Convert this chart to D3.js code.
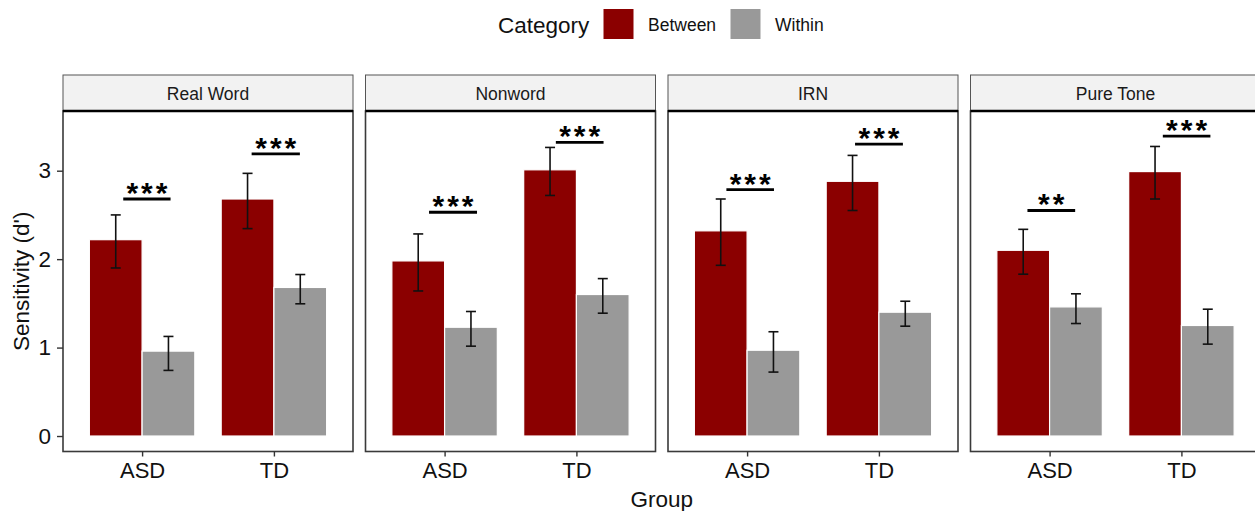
<!DOCTYPE html>
<html>
<head>
<meta charset="utf-8">
<script src="https://cdn.jsdelivr.net/npm/d3@7"></script>
<style>
  html, body { margin: 0; padding: 0; background: #fff; }
  svg { display: block; font-family: "Liberation Sans", Arial, sans-serif; }
</style>
</head>
<body>
<svg id="chart" width="1255" height="511"></svg>
<script>
// Sensitivity (d') by stimulus condition, group and comparison category
const conditions = ["Real Word", "Nonword", "IRN", "Pure Tone"];
const groups = ["ASD", "TD"];
const categories = ["Between", "Within"];
const yTicks = [0, 1, 2, 3];

// Means per condition, [ASD, TD]
const betweenMean = [[2.22, 2.68], [1.98, 3.01], [2.32, 2.88], [2.10, 2.99]];
const withinMean  = [[0.96, 1.68], [1.23, 1.60], [0.97, 1.40], [1.46, 1.25]];
// Error bar limits per condition, [ASD, TD]
const betweenLow  = [[1.90, 2.345], [1.64, 2.72], [1.93, 2.55], [1.83, 2.68]];
const betweenHigh = [[2.50, 2.97], [2.285, 3.263], [2.68, 3.173], [2.337, 3.274]];
const withinLow   = [[0.742, 1.495], [1.016, 1.389], [0.723, 1.242], [1.272, 1.039]];
const withinHigh  = [[1.126, 1.826], [1.408, 1.78], [1.179, 1.524], [1.608, 1.434]];

// Between vs. within comparisons: label, bracket height, bracket extent around the group
const sigLabel = [["***", "***"], ["***", "***"], ["***", "***"], ["**", "***"]];
const sigY     = [[2.68, 3.19], [2.53, 3.32], [2.785, 3.30], [2.55, 3.39]];
const sigFrom  = [[-0.143, -0.169], [-0.118, -0.156], [-0.157, -0.181], [-0.168, -0.141]];
const sigTo    = [[0.216, 0.197], [0.246, 0.206], [0.204, 0.182], [0.194, 0.22]];

const colors = { Between: "#8B0000", Within: "#999999" };

// Layout
const panelTop = 111, panelBottom = 451.5;
const stripTop = 75;
const firstPanelLeft = 63, panelW = 290, panelGap = 12.5;

const svg = d3.select("#chart");

const y = d3.scaleLinear().domain([-0.175, 3.675]).range([panelBottom, panelTop]);

// Each facet's horizontal scale: discrete groups at 1 and 2, with 0.6 expansion on each side
const unit = panelW / 2.2;
const dodge = 0.8;

conditions.forEach((cond, ci) => {
  const x0 = firstPanelLeft + ci * (panelW + panelGap);
  const x = d3.scalePoint().domain(groups).range([x0 + 0.6 * unit, x0 + 1.6 * unit]);
  const g = svg.append("g");

  // strip
  g.append("rect")
    .attr("x", x0).attr("y", stripTop)
    .attr("width", panelW).attr("height", panelTop - stripTop)
    .attr("fill", "#F2F2F2").attr("stroke", "#555").attr("stroke-width", 1);
  g.append("text")
    .attr("x", x0 + panelW / 2).attr("y", (stripTop + panelTop) / 2 + 6.5)
    .attr("text-anchor", "middle")
    .attr("font-size", 17.5).attr("fill", "#1a1a1a")
    .text(cond);

  // bars and error bars
  const barW = (dodge / 2) * unit;
  const rows = [];
  groups.forEach((grp, gi) => {
    rows.push({ grp, cat: "Between", mean: betweenMean[ci][gi], lo: betweenLow[ci][gi], hi: betweenHigh[ci][gi], k: 0 });
    rows.push({ grp, cat: "Within", mean: withinMean[ci][gi], lo: withinLow[ci][gi], hi: withinHigh[ci][gi], k: 1 });
  });
  const cx = d => x(d.grp) + (d.k === 0 ? -barW / 2 : barW / 2);

  g.selectAll("rect.bar").data(rows).join("rect")
    .attr("class", "bar")
    .attr("x", d => cx(d) - barW / 2)
    .attr("width", barW)
    .attr("y", d => y(d.mean))
    .attr("height", d => y(0) - y(d.mean))
    .attr("fill", d => colors[d.cat])
    .attr("stroke", "#fff").attr("stroke-width", 1.2);

  const capHalf = 5;
  const eb = g.selectAll("g.eb").data(rows).join("g").attr("class", "eb")
    .attr("stroke", "#111").attr("stroke-width", 1.6);
  eb.append("line").attr("x1", cx).attr("x2", cx).attr("y1", d => y(d.lo)).attr("y2", d => y(d.hi));
  eb.append("line").attr("x1", d => cx(d) - capHalf).attr("x2", d => cx(d) + capHalf)
    .attr("y1", d => y(d.hi)).attr("y2", d => y(d.hi));
  eb.append("line").attr("x1", d => cx(d) - capHalf).attr("x2", d => cx(d) + capHalf)
    .attr("y1", d => y(d.lo)).attr("y2", d => y(d.lo));

  // significance brackets
  groups.forEach((grp, gi) => {
    const xa = x(grp) + sigFrom[ci][gi] * unit;
    const xb = x(grp) + sigTo[ci][gi] * unit;
    const yy = y(sigY[ci][gi]);
    g.append("line")
      .attr("x1", xa).attr("x2", xb).attr("y1", yy).attr("y2", yy)
      .attr("stroke", "#000").attr("stroke-width", 2.8);
    g.append("text")
      .attr("x", (xa + xb) / 2 + 1.5).attr("y", yy + 4)
      .attr("text-anchor", "middle")
      .attr("font-size", 30).attr("font-weight", "bold")
      .attr("letter-spacing", 3)
      .attr("fill", "#000")
      .text(sigLabel[ci][gi]);
  });

  // panel border
  g.append("rect")
    .attr("x", x0).attr("y", panelTop)
    .attr("width", panelW).attr("height", panelBottom - panelTop)
    .attr("fill", "none").attr("stroke", "#3a3a3a").attr("stroke-width", 1.6);
  g.append("line")
    .attr("x1", x0).attr("x2", x0 + panelW).attr("y1", panelTop).attr("y2", panelTop)
    .attr("stroke", "#000").attr("stroke-width", 2.4);

  // x axis
  const xAxis = d3.axisBottom(x).tickSize(5).tickPadding(6);
  const xa = g.append("g").attr("transform", `translate(0,${panelBottom})`).call(xAxis);
  xa.select(".domain").remove();
  xa.selectAll(".tick line").attr("stroke", "#333").attr("stroke-width", 1.4);
  xa.selectAll(".tick text").attr("font-size", 22).attr("fill", "#111")
    .attr("font-family", "Liberation Sans, Arial, sans-serif");

  // y axis on the first facet only
  if (ci === 0) {
    const yAxis = d3.axisLeft(y).tickValues(yTicks).tickFormat(d3.format("d"))
      .tickSize(6).tickPadding(6);
    const ya = g.append("g").attr("transform", `translate(${x0},0)`).call(yAxis);
    ya.select(".domain").remove();
    ya.selectAll(".tick line").attr("stroke", "#333").attr("stroke-width", 1.4);
    ya.selectAll(".tick text").attr("font-size", 22.5).attr("fill", "#111")
      .attr("font-family", "Liberation Sans, Arial, sans-serif");
  }
});

// axis titles
const plotLeft = firstPanelLeft;
const plotRight = firstPanelLeft + 4 * panelW + 3 * panelGap;
svg.append("text")
  .attr("x", (plotLeft + plotRight) / 2).attr("y", 507)
  .attr("text-anchor", "middle").attr("font-size", 22.5).attr("fill", "#111")
  .text("Group");
svg.append("text")
  .attr("transform", `translate(29,${(panelTop + panelBottom) / 2}) rotate(-90)`)
  .attr("text-anchor", "middle").attr("font-size", 22.5).attr("fill", "#111")
  .text("Sensitivity (d')");

// legend
const legend = svg.append("g");
legend.append("text").attr("x", 498).attr("y", 33).attr("font-size", 22.5).attr("fill", "#111").text("Category");
const legendX = [603, 730];
categories.forEach((c, i) => {
  legend.append("rect")
    .attr("x", legendX[i]).attr("y", 8.5).attr("width", 31).attr("height", 31)
    .attr("fill", colors[c]).attr("stroke", "#fff").attr("stroke-width", 1);
  legend.append("text")
    .attr("x", legendX[i] + 45).attr("y", 31)
    .attr("font-size", 17.5).attr("fill", "#111")
    .text(c);
});
</script>
</body>
</html>
